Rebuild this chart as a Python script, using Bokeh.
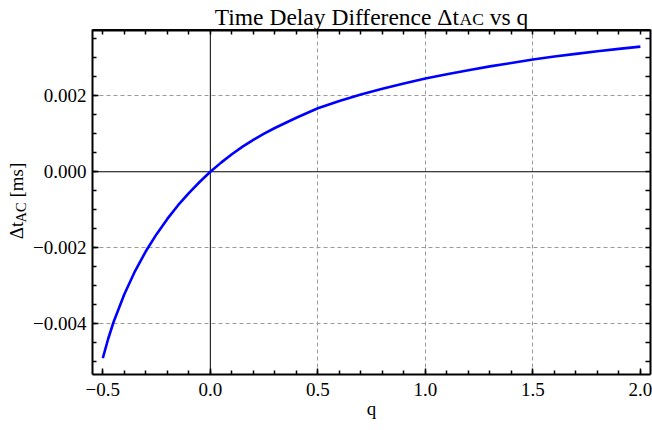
import math
from bokeh.plotting import figure
from bokeh.layouts import column, row
from bokeh.models import (Range1d, LinearAxis, FixedTicker, Grid, Span, Label,
                          CustomJSTickFormatter)
from bokeh.embed import file_html
from bokeh.resources import INLINE

# ---------------- data ----------------
q_values = [-0.5, -0.475, -0.45, -0.4, -0.35, -0.3, -0.25, -0.2, -0.15, -0.1, -0.05, 0.0,
            0.05, 0.1, 0.15, 0.2, 0.25, 0.3, 0.4, 0.5, 0.6, 0.7, 0.8, 0.9, 1.0,
            1.1, 1.2, 1.3, 1.4, 1.5, 1.6, 1.7, 1.8, 1.9, 2.0]
dt_values = [-0.00490, -0.00439, -0.00395, -0.00322, -0.00261, -0.00209, -0.00164, -0.00124,
             -0.00088, -0.00056, -0.00027, 0.0,
             0.00024, 0.00046, 0.00066, 0.00084, 0.00100, 0.00115, 0.00142, 0.00167, 0.00186,
             0.00203, 0.00218, 0.00232, 0.00245,
             0.002565, 0.00267, 0.00277, 0.00286, 0.00295, 0.00303, 0.00310, 0.00317, 0.00323, 0.00329]

x_major_ticks = [-0.5, 0.0, 0.5, 1.0, 1.5, 2.0]
x_minor_ticks = [-0.5, -0.4, -0.3, -0.2, -0.1, 0.0, 0.1, 0.2, 0.3, 0.4, 0.5, 0.6, 0.7, 0.8, 0.9,
                 1.0, 1.1, 1.2, 1.3, 1.4, 1.5, 1.6, 1.7, 1.8, 1.9, 2.0]
y_major_ticks = [-0.004, -0.002, 0.0, 0.002]
y_minor_ticks = [-0.005, -0.0045, -0.004, -0.0035, -0.003, -0.0025, -0.002, -0.0015, -0.001,
                 -0.0005, 0.0, 0.0005, 0.001, 0.0015, 0.002, 0.0025, 0.003, 0.0035]
x_grid_lines = [0.5, 1.0, 1.5]
y_grid_lines = [-0.004, -0.002, 0.002]

title_main, title_sub, title_tail = "Time Delay Difference \u0394t", "AC", "vs q"
ylab_main, ylab_sub, ylab_tail = "\u0394t", "AC", "[ms]"
xlab = "q"

# ---------------- layout constants ----------------
FONT = "Liberation Serif"
W, H = 652, 430
TITLE_H = 29          # title strip height (frame top sits right below it)
YLAB_W = 28           # y-label strip width
MAIN_W = W - YLAB_W
MAIN_H = H - TITLE_H
ML, MR, MT, MB = 92 - YLAB_W, 2, 0, 56
BASE_FIX = 0.23       # empirical shift of the alphabetic baseline (in em)

TIMES = {'T': 611, 'i': 278, 'm': 778, 'e': 444, ' ': 250, 'D': 722, 'l': 278, 'a': 444,
         'y': 500, 'f': 333, 'r': 333, 'n': 500, 'c': 444, '\u0394': 612, 't': 278,
         'A': 722, 'C': 667, 'v': 500, 's': 389, 'q': 500, '[': 333, ']': 333}


def tw(s, size):
    return sum(TIMES.get(c, 500) for c in s) / 1000.0 * size


def strip(w, h):
    f = figure(frame_width=w, frame_height=h, output_backend="svg", toolbar_location=None,
               title=None, x_range=Range1d(0, w), y_range=Range1d(0, h),
               x_axis_location=None, y_axis_location=None, min_border=0)
    f.center = []
    f.outline_line_color = None
    f.background_fill_color = "white"
    f.border_fill_color = "white"
    return f


common = dict(text_font=FONT, text_color="black", text_baseline="alphabetic", text_align="left")

# ---------------- main plot ----------------
p = figure(width=MAIN_W, height=MAIN_H, output_backend="svg", toolbar_location=None, title=None,
           x_range=Range1d(-0.548, 2.047), y_range=Range1d(-0.00533, 0.00374),
           x_axis_location=None, y_axis_location=None,
           min_border_left=ML, min_border_right=MR, min_border_top=MT, min_border_bottom=MB)
p.center = []
p.outline_line_color = None
p.background_fill_color = "white"
p.border_fill_color = "white"

gx = Grid(dimension=0, ticker=FixedTicker(ticks=x_grid_lines), grid_line_color="#9a9a9a",
          grid_line_dash="4 3", grid_line_width=1)
gy = Grid(dimension=1, ticker=FixedTicker(ticks=y_grid_lines), grid_line_color="#9a9a9a",
          grid_line_dash="4 3", grid_line_width=1)
p.add_layout(gx)
p.add_layout(gy)
p.add_layout(Span(location=0, dimension="height", line_color="black", line_width=1, level="underlay"))
p.add_layout(Span(location=0, dimension="width", line_color="black", line_width=1, level="underlay"))

p.line(q_values, dt_values, line_color="#0000ff", line_width=2.6)


def style_axis(ax, minor_len):
    ax.axis_line_width = 2
    ax.axis_line_color = "black"
    ax.major_tick_in = 6
    ax.major_tick_out = 0
    ax.minor_tick_in = minor_len
    ax.minor_tick_out = 0
    ax.major_tick_line_width = 1.5
    ax.minor_tick_line_width = 1.5
    ax.major_tick_line_color = "black"
    ax.minor_tick_line_color = "black"
    ax.major_label_text_font = FONT
    ax.major_label_text_color = "black"
    ax.major_label_text_font_size = "19px"


xfmt = CustomJSTickFormatter(code="return tick.toFixed(1).replace('-', '\u2212');")
yfmt = CustomJSTickFormatter(code="return tick.toFixed(3).replace('-', '\u2212');")

# labelled axes (bottom, left)
xb = LinearAxis(ticker=FixedTicker(ticks=x_major_ticks, minor_ticks=x_minor_ticks), formatter=xfmt)
style_axis(xb, 4)
xb.major_label_standoff = 8
xb.axis_label = xlab
xb.axis_label_text_font = FONT
xb.axis_label_text_font_style = "normal"
xb.axis_label_text_font_size = "19px"
xb.axis_label_text_color = "black"
xb.axis_label_standoff = -1
yl = LinearAxis(ticker=FixedTicker(ticks=y_major_ticks, minor_ticks=y_minor_ticks), formatter=yfmt)
style_axis(yl, 4)
yl.major_label_standoff = 6
# mirror axes (top, right): tick marks only, no labels
xt = LinearAxis(ticker=FixedTicker(ticks=[], minor_ticks=x_minor_ticks))
style_axis(xt, 5)
xt.axis_line_width = 4   # half of it lies above the canvas edge
yr = LinearAxis(ticker=FixedTicker(ticks=[], minor_ticks=y_minor_ticks))
style_axis(yr, 5)
p.add_layout(xb, "below")
p.add_layout(xt, "above")
p.add_layout(yl, "left")
p.add_layout(yr, "right")

# ---------------- title strip (with subscript) ----------------
tf = strip(W, TITLE_H)
TS, TSS = 23.5, 17.5
sp = tw(" ", TS)
tot = tw(title_main, TS) + tw(title_sub, TSS) + sp + tw(title_tail, TS)
cx = 92 + (W - 92 - MR) / 2.0
x0 = cx - tot / 2.0
t_base, t_sub_base = 21.5, 23.0     # baselines, pixels from the top
tf.add_layout(Label(x=x0, y=TITLE_H - t_base + BASE_FIX * TS, text=title_main,
                    text_font_size=f"{TS}px", **common))
tf.add_layout(Label(x=x0 + tw(title_main, TS), y=TITLE_H - t_sub_base + BASE_FIX * TSS,
                    text=title_sub, text_font_size=f"{TSS}px", **common))
tf.add_layout(Label(x=x0 + tw(title_main, TS) + tw(title_sub, TSS) + sp,
                    y=TITLE_H - t_base + BASE_FIX * TS, text=title_tail,
                    text_font_size=f"{TS}px", **common))

# ---------------- y-label strip (rotated, with subscript) ----------------
yf = strip(YLAB_W, MAIN_H)
YS, YSS = 19, 14.5
ysp = tw(" ", YS)
ytot = tw(ylab_main, YS) + tw(ylab_sub, YSS) + ysp + tw(ylab_tail, YS)
yc = H - 200.5
y0 = yc - ytot / 2.0
bx, bx_sub = 20.0, 23.5
rot = dict(common, angle=math.pi / 2)
yf.add_layout(Label(x=bx - BASE_FIX * YS, y=y0, text=ylab_main, text_font_size=f"{YS}px", **rot))
yf.add_layout(Label(x=bx_sub - BASE_FIX * YSS, y=y0 + tw(ylab_main, YS), text=ylab_sub,
                    text_font_size=f"{YSS}px", **rot))
yf.add_layout(Label(x=bx - BASE_FIX * YS, y=y0 + tw(ylab_main, YS) + tw(ylab_sub, YSS) + ysp,
                    text=ylab_tail, text_font_size=f"{YS}px", **rot))

layout = column(tf, row(yf, p))
open("out.html", "w").write(file_html(layout, INLINE))
